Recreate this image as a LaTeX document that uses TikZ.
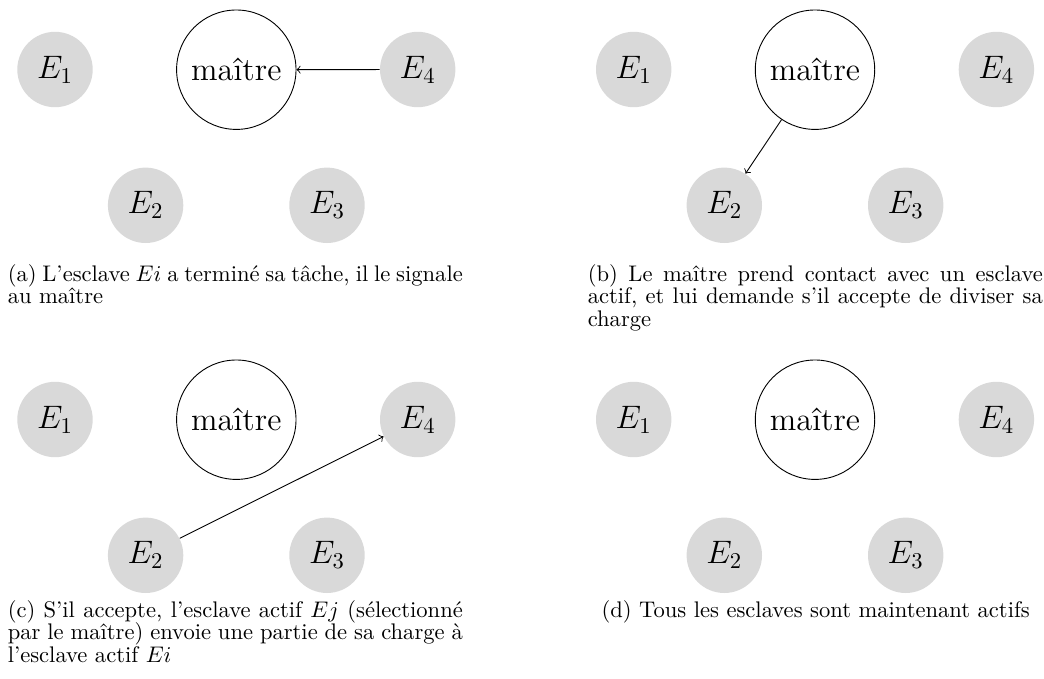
\documentclass[tikz,border=0pt]{standalone}
\usepackage{fontspec}
\begin{document}
\begin{tikzpicture}[x=0.443pt,y=-0.443pt,
  esc/.style={circle,fill=black!15,inner sep=0pt,minimum size=33.4pt,font=\Large},
  mtr/.style={circle,draw=black,fill=white,line width=0.4pt,inner sep=0pt,minimum size=52.9pt,font=\Large},
  captxt/.style={inner sep=0pt,text width=201.6pt,align=justify,font=\fontsize{10}{10}\selectfont},
  captc/.style={inner sep=0pt,font=\fontsize{10}{10}\selectfont},
  link/.style={->,black,line width=0.4pt}]
\useasboundingbox (0,0) rectangle (1044,679);
% panel (a)
\begin{scope}
\node[esc] (a1) at (55,69.5) {$E_1$};
\node[mtr] (am) at (236.3,69.7) {maître};
\node[esc] (a4) at (417.7,69.5) {$E_4$};
\node[esc] (a2) at (145.6,205.3) {$E_2$};
\node[esc] (a3) at (327,205.3) {$E_3$};
\draw[link] (a4) -- (am);
\node[captxt,anchor=north west] (ca) at (7.3,264) {(a) L’esclave $Ei$ a terminé sa tâche, il le signale au maître};
\end{scope}
% panel (b)
\begin{scope}[shift={(578.7,0)}]
\node[esc] (b1) at (55,69.5) {$E_1$};
\node[mtr] (bm) at (236.3,69.7) {maître};
\node[esc] (b4) at (417.7,69.5) {$E_4$};
\node[esc] (b2) at (145.6,205.3) {$E_2$};
\node[esc] (b3) at (327,205.3) {$E_3$};
\draw[link] (bm) -- (b2);
\node[captxt,anchor=north west] (cb) at (8.6,264) {(b) Le maître prend contact avec un esclave actif, et lui demande s’il accepte de diviser sa charge};
\end{scope}
% panel (c)
\begin{scope}[shift={(0,350)}]
\node[esc] (c1) at (55,69.5) {$E_1$};
\node[mtr] (cm) at (236.3,69.7) {maître};
\node[esc] (c4) at (417.7,69.5) {$E_4$};
\node[esc] (c2) at (145.6,205.3) {$E_2$};
\node[esc] (c3) at (327,205.3) {$E_3$};
\draw[link] (c2) -- (c4);
\node[captxt,anchor=north west] (cc) at (7.3,250) {(c) S’il accepte, l’esclave actif $Ej$ (sélectionné par le maître) envoie une partie de sa charge à l’esclave actif $Ei$};
\end{scope}
% panel (d)
\begin{scope}[shift={(578.7,350)}]
\node[esc] (d1) at (55,69.5) {$E_1$};
\node[mtr] (dm) at (236.3,69.7) {maître};
\node[esc] (d4) at (417.7,69.5) {$E_4$};
\node[esc] (d2) at (145.6,205.3) {$E_2$};
\node[esc] (d3) at (327,205.3) {$E_3$};
\node[captc,anchor=north] (cd) at (237,250) {(d) Tous les esclaves sont maintenant actifs};
\end{scope}
\end{tikzpicture}
\end{document}
